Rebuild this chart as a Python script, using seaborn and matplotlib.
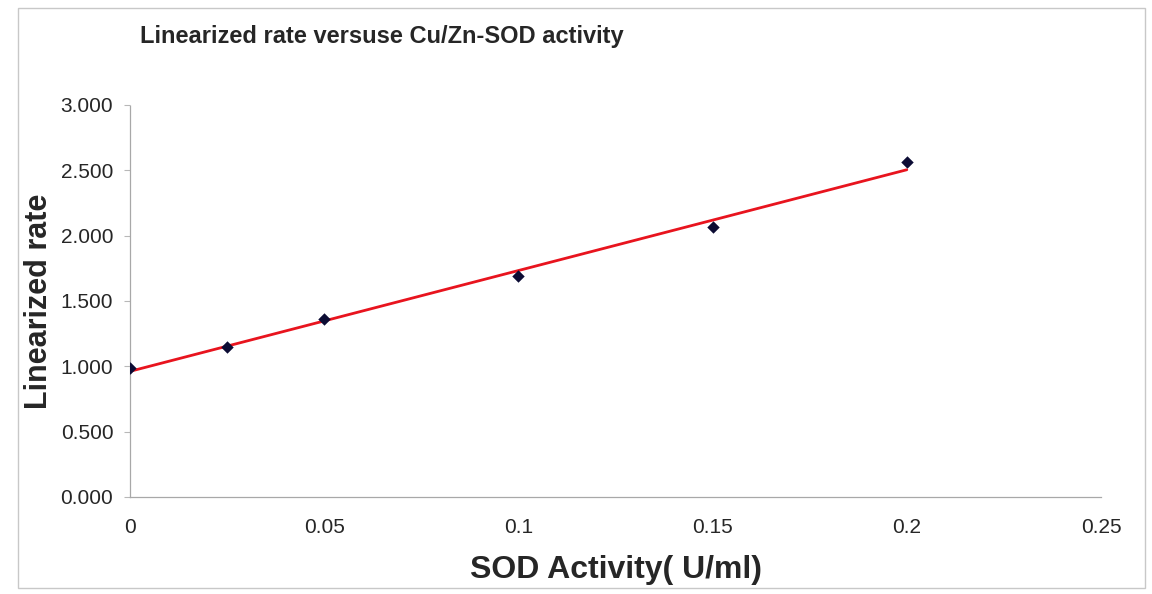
import matplotlib
matplotlib.use("Agg")
import matplotlib.pyplot as plt
import seaborn as sns
import numpy as np
import pandas as pd
from matplotlib.patches import Rectangle

sod_activity = [0.0, 0.025, 0.05, 0.1, 0.15, 0.2]
linearized_rate = [0.99, 1.15, 1.36, 1.69, 2.07, 2.56]
x_ticks = [0, 0.05, 0.1, 0.15, 0.2, 0.25]
x_tick_labels = ["0", "0.05", "0.1", "0.15", "0.2", "0.25"]
y_ticks = [0.0, 0.5, 1.0, 1.5, 2.0, 2.5, 3.0]
y_tick_labels = ["0.000", "0.500", "1.000", "1.500", "2.000", "2.500", "3.000"]

df = pd.DataFrame({"x": sod_activity, "y": linearized_rate})

sns.set_theme(style="white")
plt.rcParams['font.family'] = ['Liberation Sans', 'DejaVu Sans']

fig = plt.figure(figsize=(11.52, 5.94), dpi=100)
ax = fig.add_axes([130/1152, 1 - 497/594, (1101-130)/1152, (497-105)/594])

sns.regplot(data=df, x="x", y="y", ax=ax, ci=None, truncate=True, marker="D",
            scatter_kws=dict(s=40, color="#0c0c34", zorder=3, linewidths=0, alpha=1),
            line_kws=dict(color="#e8141e", lw=2, zorder=2))

ax.set_xlim(0, 0.25)
ax.set_ylim(0, 3.0)
ax.set_xticks(x_ticks)
ax.set_xticklabels(x_tick_labels, fontsize=15)
ax.set_yticks(y_ticks)
ax.set_yticklabels(y_tick_labels, fontsize=15)
ax.tick_params(axis="y", length=4, width=0.8, color="#b8b8b8", pad=8, direction="out", left=True)
ax.tick_params(axis="x", length=0, pad=15, bottom=True)
for s in ["top", "right"]:
    ax.spines[s].set_visible(False)
for s in ["left", "bottom"]:
    ax.spines[s].set_color("#a8a8a8")
    ax.spines[s].set_linestyle((0, (1, 1)))
    ax.spines[s].set_linewidth(0.9)

ax.set_xlabel("SOD Activity( U/ml)", fontsize=23, fontweight="bold", labelpad=13)
ax.set_ylabel("Linearized rate", fontsize=22, fontweight="bold", labelpad=5)
fig.text(140/1152, 1 - 37/594, "Linearized rate versuse Cu/Zn-SOD activity",
         fontsize=17, fontweight="bold", va="center", ha="left")

fig.patches.append(Rectangle((18/1152, 6/594), (1145-18)/1152, (588-8)/594,
                             transform=fig.transFigure, fill=False,
                             edgecolor="#c8c8c8", lw=1))

fig.savefig("out.png", dpi=100)
